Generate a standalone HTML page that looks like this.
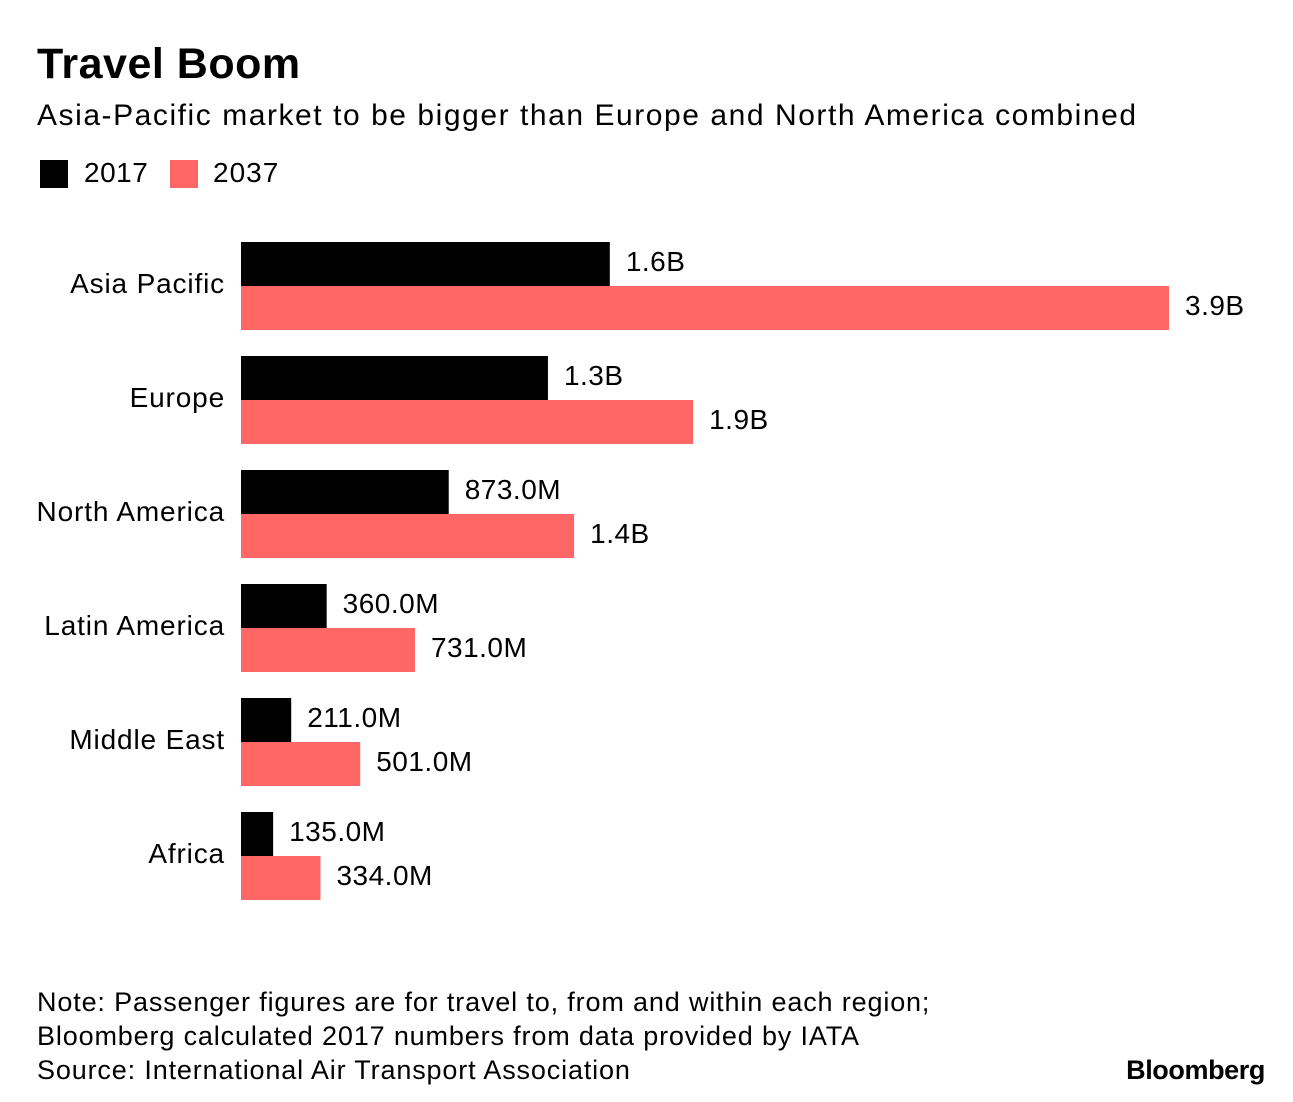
<!DOCTYPE html>
<html><head><meta charset="utf-8">
<style>
body{margin:0;background:#fff;width:1293px;height:1102px;overflow:hidden;font-family:"Liberation Sans",sans-serif;color:#000;position:relative}
.t{position:absolute;white-space:nowrap}
</style></head><body>
<div class="t" style="left:37px;top:40px;font-size:43px;font-weight:bold;letter-spacing:0.5px">Travel Boom</div>
<div class="t" style="left:37px;top:99px;font-size:30px;letter-spacing:1.55px">Asia-Pacific market to be bigger than Europe and North America combined</div>
<div style="position:absolute;left:40px;top:160px;width:28px;height:28px;background:#000"></div>
<div class="t" style="left:84px;top:157px;font-size:28px;letter-spacing:0.5px">2017</div>
<div style="position:absolute;left:170px;top:160px;width:28px;height:28px;background:#ff6666"></div>
<div class="t" style="left:213px;top:157px;font-size:28px;letter-spacing:1px">2037</div>
<svg id="chart" width="1293" height="1102" style="position:absolute;left:0;top:0" font-family="Liberation Sans, sans-serif"></svg>
<div class="t" style="left:37px;top:985px;font-size:27px;line-height:34px;letter-spacing:0.85px">Note: Passenger figures are for travel to, from and within each region;<br>Bloomberg calculated 2017 numbers from data provided by IATA<br>Source: International Air Transport Association</div>
<div class="t" style="right:28px;top:1055px;font-size:27px;font-weight:bold;letter-spacing:-0.4px">Bloomberg</div>
<script>
const categories=["Asia Pacific","Europe","North America","Latin America","Middle East","Africa"];
const values2017=[1.55,1.29,0.873,0.36,0.211,0.135];
const values2037=[3.9,1.9,1.4,0.731,0.501,0.334];
const labels2017=["1.6B","1.3B","873.0M","360.0M","211.0M","135.0M"];
const labels2037=["3.9B","1.9B","1.4B","731.0M","501.0M","334.0M"];
const svg=document.getElementById('chart');
const NS='http://www.w3.org/2000/svg';
const x0=241, scale=928/3.9, top0=242, groupH=114, barH=44;
const x=v=>x0+v*scale;
function mk(tag,attrs,txt){const e=document.createElementNS(NS,tag);for(const k in attrs)e.setAttribute(k,attrs[k]);if(txt!=null)e.textContent=txt;svg.appendChild(e);return e;}
categories.forEach((c,i)=>{
  const y=top0+i*groupH;
  const lab=mk('text',{x:225,y:y+barH+7,'text-anchor':'end','font-size':28,'letter-spacing':0.85},c);
  
  
  [[values2017,labels2017,'#000',0,'2017'],[values2037,labels2037,'#ff6666',barH,'2037']].forEach(([vals,labs,col,off,yr])=>{
    const r=mk('rect',{x:x0,y:y+off,width:x(vals[i])-x0,height:barH,fill:col});
    
    
    const t=mk('text',{x:x(vals[i])+16,y:y+off+barH/2+7,'font-size':28,'letter-spacing':0.5},labs[i]);
    
    
  });
});
</script>
</body></html>
